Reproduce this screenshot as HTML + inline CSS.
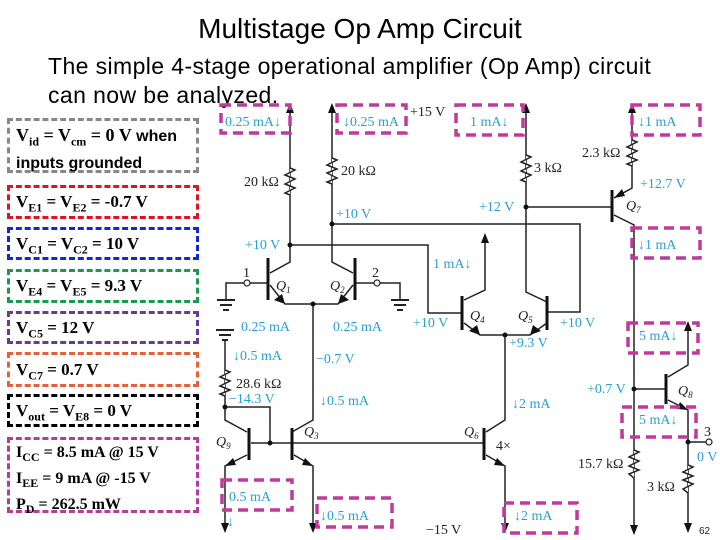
<!DOCTYPE html>
<html><head><meta charset="utf-8"><style>
body{margin:0;background:#fff;width:720px;height:540px;overflow:hidden;font-family:"Liberation Sans",sans-serif}
.ttl{position:absolute;left:0;width:720px;text-align:center;top:13px;font-size:28px}
.sub{position:absolute;left:48px;top:52px;font-size:23px;line-height:29px;letter-spacing:0.4px;white-space:nowrap}
.bx{position:absolute;left:7px;width:192px;border:3px dashed;font:bold 17px "Liberation Serif",serif;padding-left:6px;box-sizing:border-box}
.bx sub{font-size:12px}
</style></head><body>
<div class="ttl">Multistage Op Amp Circuit</div>
<div class="sub">The simple 4-stage operational amplifier (Op Amp) circuit<br>can now be analyzed.</div>
<div class="bx" style="top:118px;height:55px;border-color:#888;font-family:'Liberation Sans',sans-serif;font-size:16px;line-height:21px;padding-top:4px"><span style="font-family:'Liberation Serif',serif;font-size:18px">V<sub>id</sub> = V<sub>cm</sub> = 0 V</span> when inputs grounded</div>
<div class="bx" style="top:185px;height:34px;border-color:#e0141e;line-height:28px">V<sub>E1</sub> = V<sub>E2</sub> = -0.7 V</div>
<div class="bx" style="top:227px;height:33px;border-color:#1428d0;line-height:28px">V<sub>C1</sub> = V<sub>C2</sub> = 10 V</div>
<div class="bx" style="top:269px;height:34px;border-color:#1a9a50;line-height:28px">V<sub>E4</sub> = V<sub>E5</sub> = 9.3 V</div>
<div class="bx" style="top:311px;height:33px;border-color:#6a3a9a;line-height:28px">V<sub>C5</sub> = 12 V</div>
<div class="bx" style="top:352px;height:35px;border-color:#e8603a;line-height:30px">V<sub>C7</sub> = 0.7 V</div>
<div class="bx" style="top:394px;height:33px;border-color:#000;line-height:28px">V<sub>out</sub> = V<sub>E8</sub> = 0 V</div>
<div class="bx" style="top:437px;height:76px;border-color:#b83a9a;line-height:21px;padding-top:2px;font-size:16px">I<sub>CC</sub> = 8.5 mA @ 15 V<br>I<sub>EE</sub> = 9 mA @ -15 V<br>P<sub>D</sub> = 262.5 mW</div>
<svg width="720" height="540" style="position:absolute;left:0;top:0" font-family="Liberation Serif,serif" font-size="14">
<g stroke="#222" stroke-width="1.5" fill="none">
<path d="M290,110 V262 L270,273"/><path d="M332,110 V262 L353,273"/>
<polyline points="290,168 295,170 285,175 295,179 285,184 295,188 285,193 290,195" fill="#fff"/>
<polyline points="332,158 337,160 327,165 337,169 327,173 337,178 327,182 332,184" fill="#fff"/>
<path d="M290,245 H428 V313 H462"/><path d="M332,224 H580 V312 H547"/>
<path d="M270,285 L285,304 H338 L353,285"/><path d="M313,304 V420 L292,432"/>
<path d="M268,283 H250 M244,283 H226 V300"/><path d="M355,283 H374 M380,283 H400 V300"/>
<path d="M485,238 V290 L464,300"/><path d="M464,323 L480,335 H530 L547,323"/>
<path d="M526,110 V292 L547,302"/><path d="M505,335 V420 L486,432"/>
<polyline points="526,155 531,157 521,162 531,166 521,171 531,175 521,180 526,182" fill="#fff"/>
<path d="M526,207 H612"/>
<path d="M632,110 V188 L614,198"/><path d="M614,215 L634,225 V530"/>
<polyline points="632,140 637,142 627,147 637,151 627,156 637,160 627,164 632,166" fill="#fff"/>
<path d="M634,389 H666"/><path d="M688,326 V365 L668,377"/><path d="M668,400 L688,410 V528"/>
<path d="M688,442 H706"/>
<polyline points="688,465 693,467 683,472 693,476 683,480 693,484 683,489 688,493" fill="#fff"/>
<polyline points="634,450 639,452 629,457 639,461 629,466 639,470 629,474 634,478" fill="#fff"/>
<path d="M225,340 V420 L247,432"/>
<polyline points="225,370 230,372 220,377 230,381 220,386 230,390 220,394 225,396" fill="#fff"/>
<path d="M225,407 H270 V443"/><path d="M251,443 H484"/>
<path d="M247,455 L225,466 V528"/><path d="M294,455 L313,466 V528"/><path d="M486,455 L505,466 V528"/>
</g>
<g stroke="#111" stroke-width="3">
<path d="M268,258 V300 M355,258 V300 M462,296 V330 M547,296 V330 M612,190 V222 M666,374 V404 M249,428 V460 M292,428 V460 M484,428 V460"/>
</g>
<g fill="#111">
<path d="M290,103 L286,113 L294,113Z M332,103 L328,113 L336,113Z M526,103 L522,113 L530,113Z M632,103 L628,113 L636,113Z M485,233 L481,243 L489,243Z M688,321 L684,331 L692,331Z"/>
<path d="M225,533 L221,523 L229,523Z M313,533 L309,523 L317,523Z M505,533 L501,523 L509,523Z M634,535 L630,525 L638,525Z M688,533 L684,523 L692,523Z"/>
<path d="M285,304 L274,300 L282,294Z M338,304 L349,300 L341,294Z M480,335 L469,331 L477,325Z M530,335 L541,331 L533,325Z M614,198 L622,189 L625,196Z M688,410 L677,409 L680,402Z M225,466 L233,458 L236,465Z M313,466 L302,465 L305,458Z M505,466 L494,465 L497,458Z"/>
<circle cx="290" cy="245" r="2.5"/><circle cx="332" cy="224" r="2.5"/><circle cx="313" cy="304" r="2.5"/><circle cx="505" cy="335" r="2.5"/><circle cx="526" cy="207" r="2.5"/><circle cx="634" cy="389" r="2.5"/><circle cx="688" cy="442" r="2.5"/><circle cx="225" cy="407" r="2.5"/><circle cx="270" cy="443" r="2.5"/>
</g>
<g fill="#fff" stroke="#222" stroke-width="1.2"><circle cx="247" cy="283" r="3"/><circle cx="377" cy="283" r="3"/><circle cx="709" cy="442" r="3"/></g>
<g stroke="#222" stroke-width="2"><path d="M217,300 H235 M220,305 H232 M223,310 H229 M391,300 H409 M394,305 H406 M397,310 H403 M216,330 H234 M219,335 H231 M222,340 H228"/></g>
<g fill="#222">
<text x="410" y="116">+15 V</text>
<text x="244" y="186">20 kΩ</text><text x="341" y="175">20 kΩ</text><text x="534" y="172">3 kΩ</text><text x="582" y="157">2.3 kΩ</text>
<text x="236" y="388">28.6 kΩ</text><text x="578" y="468">15.7 kΩ</text><text x="647" y="491">3 kΩ</text>
<text x="243" y="277">1</text><text x="372" y="277">2</text><text x="704" y="436">3</text>
<text x="426" y="534">−15 V</text><text x="496" y="450">4×</text>
<g font-style="italic"><text x="276" y="290">Q<tspan font-size="9" dy="3">1</tspan></text><text x="330" y="290">Q<tspan font-size="9" dy="3">2</tspan></text><text x="470" y="320">Q<tspan font-size="9" dy="3">4</tspan></text><text x="518" y="320">Q<tspan font-size="9" dy="3">5</tspan></text><text x="626" y="210">Q<tspan font-size="9" dy="3">7</tspan></text><text x="678" y="395">Q<tspan font-size="9" dy="3">8</tspan></text><text x="216" y="446">Q<tspan font-size="9" dy="3">9</tspan></text><text x="304" y="436">Q<tspan font-size="9" dy="3">3</tspan></text><text x="464" y="436">Q<tspan font-size="9" dy="3">6</tspan></text></g>
<text x="699" y="534" font-family="Liberation Sans,sans-serif" font-size="10">62</text>
</g>
<g fill="#2aa0cf">
<text x="225" y="126">0.25 mA↓</text><text x="343" y="126">↓0.25 mA</text><text x="470" y="126">1 mA↓</text><text x="638" y="126">↓1 mA</text>
<text x="336" y="218">+10 V</text><text x="245" y="249">+10 V</text><text x="479" y="211">+12 V</text><text x="640" y="188">+12.7 V</text>
<text x="638" y="249">↓1 mA</text><text x="433" y="268">1 mA↓</text>
<text x="413" y="327">+10 V</text><text x="560" y="327">+10 V</text><text x="509" y="347">+9.3 V</text>
<text x="241" y="331">0.25 mA</text><text x="333" y="331">0.25 mA</text><text x="233" y="360">↓0.5 mA</text><text x="316" y="363">−0.7 V</text>
<text x="229" y="403">−14.3 V</text><text x="320" y="405">↓0.5 mA</text><text x="512" y="408">↓2 mA</text>
<text x="587" y="393">+0.7 V</text><text x="639" y="340">5 mA↓</text><text x="639" y="424">5 mA↓</text><text x="697" y="461">0 V</text>
<text x="229" y="501">0.5 mA</text><text x="227" y="526">↓</text><text x="320" y="520">↓0.5 mA</text><text x="514" y="520">↓2 mA</text>
</g>
<g fill="none" stroke="#c03a9c" stroke-width="3.5" stroke-dasharray="10,6">
<rect x="221" y="105" width="69" height="28"/><rect x="337" y="105" width="69" height="28"/><rect x="456" y="105" width="67" height="30"/><rect x="632" y="105" width="68" height="30"/>
<rect x="632" y="228" width="68" height="30"/><rect x="628" y="323" width="70" height="30"/><rect x="622" y="407" width="74" height="30"/>
<rect x="222" y="480" width="70" height="30"/><rect x="317" y="498" width="75" height="29"/><rect x="504" y="503" width="73" height="30"/>
</g>
</svg>
</body></html>
